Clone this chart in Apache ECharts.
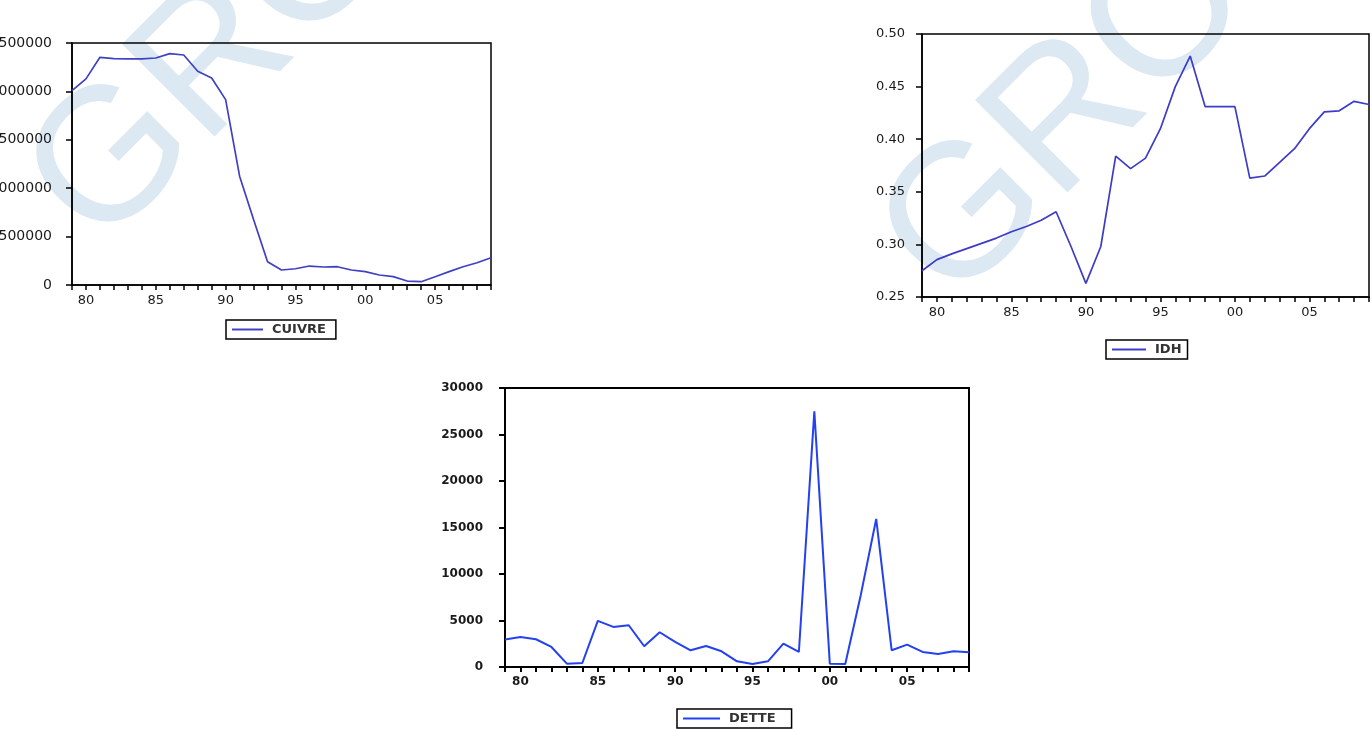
<!DOCTYPE html>
<html><head><meta charset="utf-8">
<script src="https://cdn.jsdelivr.net/npm/echarts@6/dist/echarts.min.js"></script>
<style>html,body{margin:0;padding:0;background:#fff}#c{width:1372px;height:729px}</style>
</head><body><div id="c"></div>
<script>
const years = ['1979','1980','1981','1982','1983','1984','1985','1986','1987','1988','1989','1990','1991','1992','1993','1994','1995','1996','1997','1998','1999','2000','2001','2002','2003','2004','2005','2006','2007','2008','2009'];
const tickLabels = {'1980':'80','1985':'85','1990':'90','1995':'95','2000':'00','2005':'05'};
const cuivre = [2008000,2129000,2352000,2338000,2335000,2335000,2345000,2390000,2376000,2208000,2139000,1915000,1124000,677000,241000,155000,168000,196000,186000,189000,155000,138000,103000,86000,41000,34000,86000,138000,189000,230000,282000];
const idh = [0.275,0.2855,0.291,0.296,0.301,0.306,0.312,0.317,0.323,0.331,0.298,0.263,0.298,0.384,0.372,0.382,0.410,0.450,0.479,0.431,0.431,0.431,0.363,0.365,0.378,0.391,0.410,0.426,0.427,0.436,0.433];
const dette = [2946,3234,2982,2156,360,431,4958,4311,4491,2228,3737,2695,1796,2263,1689,611,323,611,2515,1617,27485,360,323,7725,15916,1796,2407,1617,1401,1689,1581];
const cuivreTicks = {min:0, max:2500000, step:500000};
const idhTicks = {min:0.25, max:0.50, step:0.05};
const detteTicks = {min:0, max:30000, step:5000};

const chart = echarts.init(document.getElementById('c'), null, {renderer:'canvas'});
const FONT = 'DejaVu Sans';
const WM = '#dce9f3';

function xAx(gi, fs, fw, lw){
  return {type:'category', gridIndex:gi, data:years, boundaryGap:false, z:2,
    axisLine:{lineStyle:{color:'#000', width:lw}},
    axisTick:{show:true, inside:false, length:5, interval:0, lineStyle:{color:'#000', width:lw}},
    axisLabel:{interval:0, margin:9, fontFamily:FONT, fontSize:fs, fontWeight:fw, color:'#1a1a1a',
      formatter:v => tickLabels[v] || ''},
    splitLine:{show:false}};
}
function yAx(gi, t, margin, fs, fw, lw, fmt){
  return {type:'value', gridIndex:gi, min:t.min, max:t.max, interval:t.step, z:2,
    axisLine:{show:true, lineStyle:{color:'#000', width:lw}},
    axisTick:{show:true, inside:false, length:6, lineStyle:{color:'#000', width:lw}},
    axisLabel:{margin:margin, fontFamily:FONT, fontSize:fs, fontWeight:fw, color:'#1a1a1a', formatter:fmt},
    splitLine:{show:false}};
}
function leg(name, left, top, iw, pad){
  return {data:[name], left:left, top:top, orient:'horizontal', icon:'rect', itemWidth:iw, itemHeight:2,
    borderColor:'#000', borderWidth:1.5, borderRadius:0, padding:pad, selectedMode:false,
    textStyle:{fontFamily:FONT, fontSize:13, fontWeight:'bold', color:'#333', padding:[0,0,0,4]}};
}
function grid(l, t, w, h, bw){
  return {left:l, top:t, width:w, height:h, show:true, borderColor:'#000', borderWidth:bw,
    backgroundColor:'transparent', z:2, containLabel:false, outerBoundsMode:'none'};
}

const option = {
  animation:false,
  backgroundColor:'#fff',
  graphic:[
    {type:'text', x:215, y:62, rotation:Math.PI/4, z:0, silent:true,
      style:{text:'GRO', font:'190px "Liberation Sans"', fill:WM, align:'center', verticalAlign:'middle'}},
    {type:'text', x:1068, y:118, rotation:Math.PI/4, z:0, silent:true,
      style:{text:'GRO', font:'190px "Liberation Sans"', fill:WM, align:'center', verticalAlign:'middle'}}
  ],
  grid:[
    grid(72, 43, 419, 242, 1.5),
    grid(922, 34, 447, 263, 1.5),
    grid(505, 388, 464, 279, 2)
  ],
  xAxis:[xAx(0,13,'normal',1.5), xAx(1,13,'normal',1.5), xAx(2,12,'bold',2)],
  yAxis:[
    yAx(0, cuivreTicks, 20, 14, 'normal', 1.5, v => String(v)),
    yAx(1, idhTicks, 17, 13, 'normal', 1.5, v => v.toFixed(2)),
    yAx(2, detteTicks, 22, 12, 'bold', 2, v => String(v))
  ],
  legend:[
    leg('CUIVRE', 226, 320, 31, [3,10,3,6]),
    leg('IDH', 1106, 340, 34, [3,6,3,6]),
    leg('DETTE', 677, 709, 37, [3,16,3,6])
  ],
  series:[
    {name:'CUIVRE', type:'line', xAxisIndex:0, yAxisIndex:0, data:cuivre, showSymbol:false, z:3,
      lineStyle:{color:'#4040c4', width:1.7}, itemStyle:{color:'#4040c4'}},
    {name:'IDH', type:'line', xAxisIndex:1, yAxisIndex:1, data:idh, showSymbol:false, z:3,
      lineStyle:{color:'#3c3cc8', width:1.7}, itemStyle:{color:'#3c3cc8'}},
    {name:'DETTE', type:'line', xAxisIndex:2, yAxisIndex:2, data:dette, showSymbol:false, z:3,
      lineStyle:{color:'#2341f0', width:2}, itemStyle:{color:'#2341f0'}}
  ]
};
chart.setOption(option);
</script></body></html>
